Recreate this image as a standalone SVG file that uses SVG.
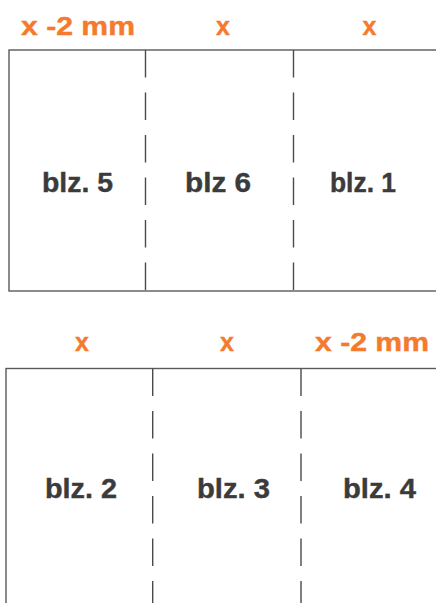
<svg xmlns="http://www.w3.org/2000/svg" width="436" height="603" viewBox="0 0 436 603">
<style>
.frame{fill:none;stroke:#5a5a5a;stroke-width:1.4}
.div{stroke:#4a4a4a;stroke-width:1.4;stroke-dasharray:27.5 15}
.hd{font-family:"Liberation Sans",Arial,sans-serif;font-weight:bold;font-size:25px;fill:#F47A2E;stroke:#F47A2E;stroke-width:0.4;text-anchor:middle}
.lb{font-family:"Liberation Sans",Arial,sans-serif;font-weight:bold;font-size:27px;fill:#3b3b3b;stroke:#3b3b3b;stroke-width:0.4;text-anchor:middle}
</style>
<rect width="436" height="603" fill="#ffffff"/>
<g id="top-sheet">
<rect class="frame" x="9" y="50" width="440" height="241"/>
</g>
<g id="bottom-sheet">
<rect class="frame" x="6" y="368.5" width="440" height="250"/>
</g>
<g id="connectors">
<line class="div" x1="145.5" y1="50" x2="145.5" y2="291"/>
<line class="div" x1="293.5" y1="50" x2="293.5" y2="291"/>
<line class="div" x1="152.7" y1="368.5" x2="152.7" y2="603"/>
<line class="div" x1="301" y1="368.5" x2="301" y2="603"/>
</g>
<g id="top-headers">
<text class="hd" x="78" y="35" textLength="114" lengthAdjust="spacingAndGlyphs">x -2 mm</text>
<text class="hd" x="223" y="35">x</text>
<text class="hd" x="369.5" y="35">x</text>
</g>
<g id="blz5"><text class="lb" x="77.5" y="192" textLength="71" lengthAdjust="spacingAndGlyphs">blz. 5</text></g>
<g id="blz6"><text class="lb" x="218" y="192" textLength="66" lengthAdjust="spacingAndGlyphs">blz 6</text></g>
<g id="blz1"><text class="lb" x="363" y="192" textLength="66" lengthAdjust="spacingAndGlyphs">blz. 1</text></g>
<g id="bottom-headers">
<text class="hd" x="82" y="351">x</text>
<text class="hd" x="227" y="351">x</text>
<text class="hd" x="372" y="351" textLength="114" lengthAdjust="spacingAndGlyphs">x -2 mm</text>
</g>
<g id="blz2"><text class="lb" x="81" y="498" textLength="72" lengthAdjust="spacingAndGlyphs">blz. 2</text></g>
<g id="blz3"><text class="lb" x="233.5" y="498" textLength="73" lengthAdjust="spacingAndGlyphs">blz. 3</text></g>
<g id="blz4"><text class="lb" x="379.5" y="498" textLength="73" lengthAdjust="spacingAndGlyphs">blz. 4</text></g>
</svg>
